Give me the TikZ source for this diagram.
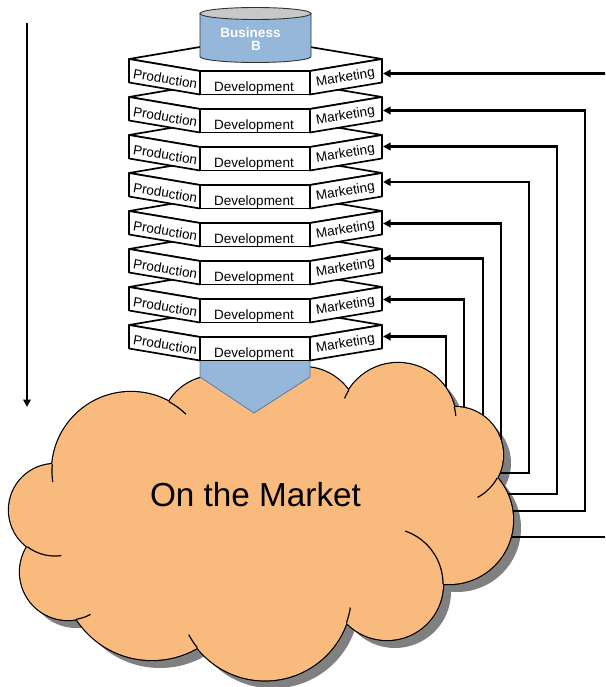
\documentclass[tikz,border=0pt]{standalone}
\usepackage{fontspec}
\setmainfont{Liberation Sans}
\usetikzlibrary{arrows.meta}

\definecolor{cloudfill}{HTML}{F9BB7D}
\definecolor{stackblue}{HTML}{95B7DA}
\definecolor{lidgrey}{HTML}{C8C8C8}
\definecolor{shadowgrey}{HTML}{808080}
\definecolor{edgeblue}{HTML}{5F7A99}

% a crease of the cloud: part of a lobe circle running into the inside
\newcommand\cloudcrease[5]{\draw[crease] plot[domain=#4:#5,samples=24] ({#1+#3*cos(\x)},{#2+#3*sin(\x)});}

\begin{document}
\begin{tikzpicture}[x=1pt,y=-1pt,
  facet/.style={draw=black,fill=white,line width=1.7pt,line join=round},
  lbl/.style={font=\fontsize{13.5}{16}\selectfont,inner sep=0pt,anchor=base},
  feed/.style={draw=black,line width=2.1pt,line join=miter,-{Triangle[length=7.5pt,width=7.5pt]}},
  crease/.style={draw=black,line width=1.2pt},
  cylline/.style={draw=black!80,line width=0.9pt},
  biztext/.style={font=\bfseries\fontsize{13.5}{16}\selectfont,text=white,inner sep=0pt,anchor=base}]

\useasboundingbox (0,0) rectangle (605,687);
\clip (0,0) rectangle (605,687);

% lobes of the cloud: centre x / centre y / radius
\def\lobes{215/430/54,131/471/79,55/510/46,68/572/48,152/570/90,265/594/86.4,387/584/56,449/520/64,455/455/48,398/421/58,303/423/56}

% drop shadow of the cloud
\begin{scope}[shift={(8,8)}]
  \fill[shadowgrey] (215,430) -- (131,471) -- (55,510) -- (68,572) -- (152,570) -- (265,594) -- (387,584) -- (449,520) -- (455,455) -- (398,421) -- (303,423) -- cycle;
  \foreach \cx/\cy/\r in \lobes { \fill[shadowgrey] (\cx,\cy) circle[radius=\r]; }
\end{scope}

% arrow tips at the marketing faces and loose ends in the cloud
\coordinate (in1) at (383,73.5);
\coordinate (in2) at (383,110.5);
\coordinate (in3) at (383,146.5);
\coordinate (in4) at (383,182);
\coordinate (in5) at (383,223.5);
\coordinate (in6) at (383,258.5);
\coordinate (in7) at (383,299.5);
\coordinate (in8) at (383,336.5);
\coordinate (out1) at (506,537);
\coordinate (out2) at (508,511);
\coordinate (out3) at (503,494);
\coordinate (out4) at (496,473);
\coordinate (out5) at (501,444);
\coordinate (out6) at (483,419);
\coordinate (out7) at (464,411);
\coordinate (out8) at (446,392);
\coordinate (flowtop) at (27,23);
\coordinate (flowbot) at (27,407);

% feedback loops from the market back into the stack
\draw[feed] (out1) -- (620,537) |- (in1);
\draw[feed] (out2) -- (585,511) |- (in2);
\draw[feed] (out3) -- (557,494) |- (in3);
\draw[feed] (out4) -- (529,473) |- (in4);
\draw[feed] (out5) |- (in5);
\draw[feed] (out6) |- (in6);
\draw[feed] (out7) |- (in7);
\draw[feed] (out8) |- (in8);
\draw[feed] (flowtop) -- (flowbot);

% the cloud: outline of the union of lobes, then the fill
\foreach \cx/\cy/\r in \lobes { \draw[line width=2.4pt] (\cx,\cy) circle[radius=\r]; }
\fill[cloudfill] (215,430) -- (131,471) -- (55,510) -- (68,572) -- (152,570) -- (265,594) -- (387,584) -- (449,520) -- (455,455) -- (398,421) -- (303,423) -- cycle;
\foreach \cx/\cy/\r in \lobes { \fill[cloudfill] (\cx,\cy) circle[radius=\r]; }

% creases between the lobes
\cloudcrease{131}{471}{79}{-61.3}{-46}
\cloudcrease{131}{471}{79}{184.9}{172}
\cloudcrease{55}{510}{46}{127}{82}
\cloudcrease{68}{572}{48}{80}{62}
\cloudcrease{265}{594}{86.4}{141.6}{152}
\cloudcrease{265}{594}{86.4}{19.4}{9}
\cloudcrease{387}{584}{56}{0}{-71}
\cloudcrease{455}{455}{48}{28.5}{62}
\cloudcrease{398}{421}{58}{-14}{-5}
\cloudcrease{398}{421}{58}{212}{203}

\node[font=\fontsize{33.3}{40}\selectfont,anchor=base,inner sep=0pt] (market) at (255.5,506) {On the Market};

% funnel from the stack into the market
\filldraw[fill=stackblue,draw=edgeblue,line width=0.8pt] (200,360) -- (310,360) -- (310,377) -- (254,413) -- (200,377) -- cycle;

% stack of hexagonal layers, lowest first
\foreach \k in {7,6,...,0} {
  \pgfmathsetmacro\yo{59+38*\k}
  \draw[facet] (129,\yo) -- (200,\yo-12) -- (310,\yo-12) -- (382,\yo) -- (310,\yo+12) -- (200,\yo+12) -- cycle;
  \draw[facet] (129,\yo) -- (200,\yo+12) -- (200,\yo+35.5) -- (129,\yo+23.5) -- cycle;
  \draw[facet] (200,\yo+12) rectangle (310,\yo+35.5);
  \draw[facet] (310,\yo+12) -- (382,\yo) -- (382,\yo+23.5) -- (310,\yo+35.5) -- cycle;
  \node[lbl,rotate=-9.6] (prod\k) at (164.5,\yo+24.5) {Production};
  \node[lbl] (dev\k) at (254,\yo+32.5) {Development};
  \node[lbl,rotate=9.6] (mkt\k) at (346,\yo+22.5) {Marketing};
}

% business cylinder on top
\draw[cylline,fill=stackblue] (200,13.5) -- (200,56.5) -- plot[domain=180:0,samples=60] ({255.5+55.5*cos(\x)},{56.5+6*sin(\x)}) -- (311,13.5) -- cycle;
\draw[cylline,fill=lidgrey] (255.5,13.5) ellipse[x radius=55.5,y radius=6];
\node[biztext] (biz) at (250.5,37.5) {Business};
\node[biztext] (bizb) at (256,50.5) {B};

\end{tikzpicture}
\end{document}
